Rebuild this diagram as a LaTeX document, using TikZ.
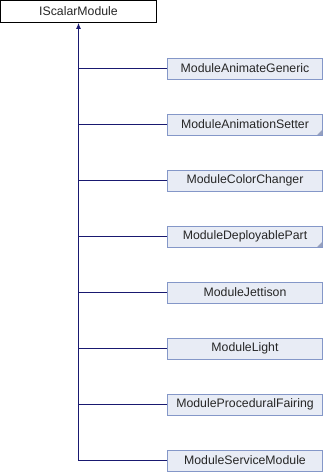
\documentclass[tikz,border=0pt]{standalone}
\usepackage{fontspec}
\setmainfont{Liberation Sans}
\usetikzlibrary{arrows.meta}
\definecolor{boxborder}{RGB}{132,151,200}
\definecolor{boxfill}{RGB}{232,236,245}
\definecolor{cornermark}{RGB}{150,160,190}
\definecolor{edgeblue}{RGB}{25,25,112}
\begin{document}
\begin{tikzpicture}[x=1pt,y=-1pt,
  base/.style={draw=black,fill=white,line width=0.8pt,minimum width=156pt,minimum height=22pt,inner sep=0pt,
    font=\fontsize{12.3}{14}\selectfont,text=black!85},
  derived/.style={draw=boxborder,fill=boxfill,
    line width=0.8pt,minimum width=155pt,minimum height=21pt,inner sep=0pt,
    font=\fontsize{12.3}{14}\selectfont,text=black!85},
  edge/.style={draw=edgeblue,line width=0.9pt},
  tip/.style={-{Latex[length=6pt,width=5pt]}}]
\useasboundingbox (0,0) rectangle (324,472);

\node[base] (ism) at (78.5,11.5) {IScalarModule};

\node[derived] (c1) at (245,68.5) {ModuleAnimateGeneric};
\node[derived] (c2) at (245,124.5) {ModuleAnimationSetter};
\node[derived] (c3) at (245,180.5) {ModuleColorChanger};
\node[derived] (c4) at (245,236.5) {ModuleDeployablePart};
\node[derived] (c5) at (245,292.5) {ModuleJettison};
\node[derived] (c6) at (245,348.5) {ModuleLight};
\node[derived] (c7) at (245,404.5) {ModuleProceduralFairing};
\node[derived] (c8) at (245,460.5) {ModuleServiceModule};

% small corner marks on classes that have further subclasses
\foreach \c in {c2,c4}
  \fill[cornermark] ([xshift=-0.6pt,yshift=0.6pt]\c.south east) -- ++(-5,0) -- ++(5,-5) -- cycle;

% trunk from the last child up to the base class
\coordinate (trunk) at (c8.west -| ism.south);
\draw[edge,tip] (trunk) -- (ism.south);
\foreach \c in {c1,c2,c3,c4,c5,c6,c7,c8}
  \draw[edge] (\c.west) -- (\c.west -| ism.south);
\end{tikzpicture}
\end{document}
